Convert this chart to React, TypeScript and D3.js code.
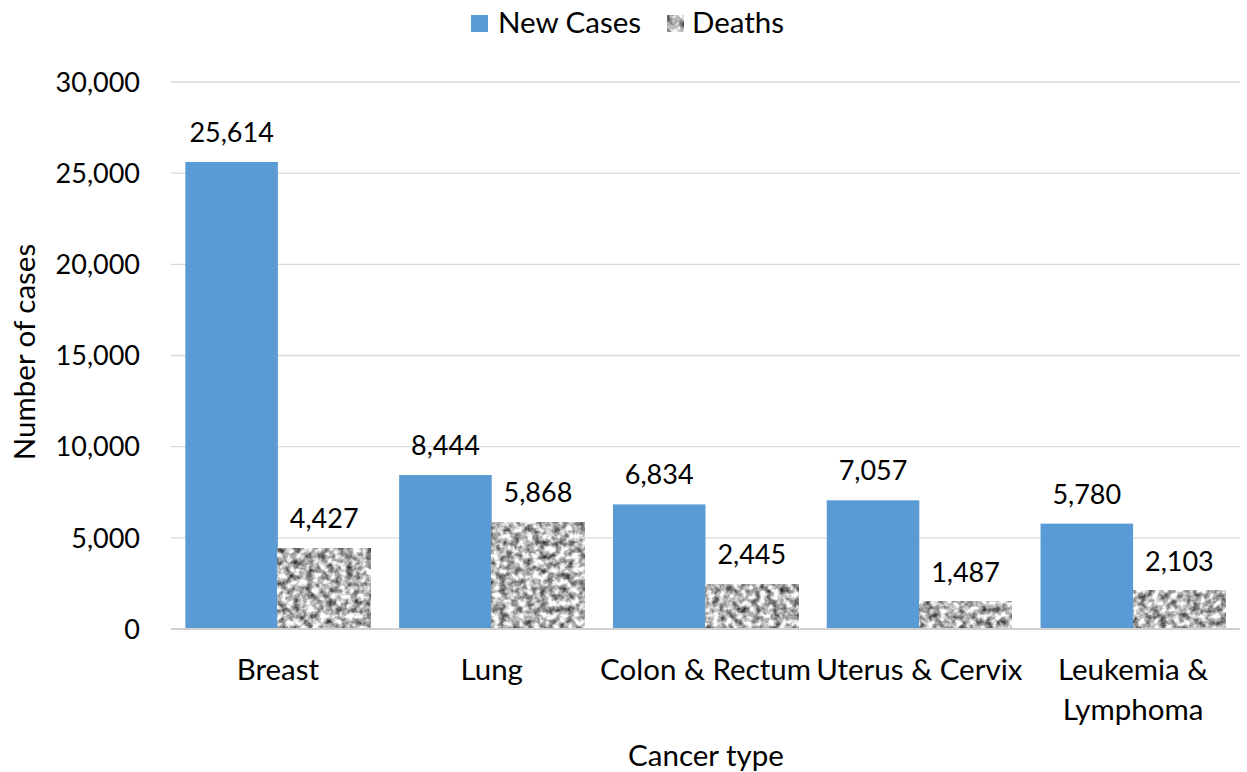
import React from "react";
import * as d3 from "d3";

const categories = ["Breast", "Lung", "Colon & Rectum", "Uterus & Cervix", "Leukemia & Lymphoma"];
const categoryLines = [["Breast"], ["Lung"], ["Colon & Rectum"], ["Uterus & Cervix"], ["Leukemia &", "Lymphoma"]];
const newCases = [25614, 8444, 6834, 7057, 5780];
const deaths = [4427, 5868, 2445, 1487, 2103];
const yTicks = [0, 5000, 10000, 15000, 20000, 25000, 30000];
const seriesNames = ["New Cases", "Deaths"];

const W = 1247, H = 772;
const left = 171, right = 1240, top = 82, bottom = 629;
const FONT = "Lato, 'Open Sans', sans-serif";
const FS = 27;
const FSW = 29.5;

export default function App() {
  const x0 = d3.scaleBand<string>().domain(categories).range([left, right]).paddingInner(0).paddingOuter(0);
  const x1 = d3.scaleBand<string>().domain(seriesNames).range([0, x0.bandwidth()]).paddingOuter(0.155).paddingInner(0);
  const y = d3.scaleLinear().domain([0, 30000]).range([bottom, top]);
  const fmt = d3.format(",");
  const blue = "#5b9bd5";

  return (
    <svg width={W} height={H} style={{ position: "absolute", left: 0, top: 0, background: "#fff" }}>
      <defs>
        <filter id="noise" x="0" y="0" width="1" height="1" filterUnits="objectBoundingBox" colorInterpolationFilters="sRGB">
          <feTurbulence type="fractalNoise" baseFrequency="0.15" numOctaves={3} seed={5} result="t" />
          <feColorMatrix in="t" type="matrix"
            values="1.45 0 0 0 -0.02  1.45 0 0 0 -0.02  1.45 0 0 0 -0.02  0 0 0 0 1" result="g" />
          <feGaussianBlur in="g" stdDeviation="0.6" />
        </filter>
      </defs>
      {yTicks.map((t) => (
        <g key={t}>
          <line x1={left} x2={right} y1={y(t)} y2={y(t)} stroke="#d9d9d9" strokeWidth={1.3} />
          <text x={140} y={y(t)} dy="0.36em" textAnchor="end" fontFamily={FONT} fontSize={FS} fill="#000">{fmt(t)}</text>
        </g>
      ))}
      {categories.map((c, i) => {
        const gx = x0(c)!;
        const xa = gx + x1("New Cases")!;
        const xb = gx + x1("Deaths")!;
        const bw = x1.bandwidth();
        return (
          <g key={c}>
            <rect x={xa} y={y(newCases[i])} width={bw} height={bottom - y(newCases[i])} fill={blue} />
            <rect x={xb} y={y(deaths[i])} width={bw} height={bottom - y(deaths[i])} fill="#aaa" filter="url(#noise)" />
            <text x={xa + bw / 2} y={y(newCases[i]) - 20} textAnchor="middle" fontFamily={FONT} fontSize={FS}>{fmt(newCases[i])}</text>
            <text x={xb + bw / 2} y={y(deaths[i]) - 20} textAnchor="middle" fontFamily={FONT} fontSize={FS}>{fmt(deaths[i])}</text>
            {categoryLines[i].map((ln, j) => (
              <text key={j} x={gx + x0.bandwidth() / 2} y={680 + j * 40} textAnchor="middle" fontFamily={FONT} fontSize={FSW}>{ln}</text>
            ))}
          </g>
        );
      })}
      <line x1={left} x2={right} y1={bottom} y2={bottom} stroke="#d0d0d0" strokeWidth={2} />
      <text x={706} y={766} textAnchor="middle" fontFamily={FONT} fontSize={FSW}>Cancer type</text>
      <text transform={`translate(35,352) rotate(-90)`} textAnchor="middle" fontFamily={FONT} fontSize={FSW}>Number of cases</text>
      <rect x={471} y={15} width={17} height={17} fill={blue} />
      <text x={498} y={33} fontFamily={FONT} fontSize={FSW}>New Cases</text>
      <rect x={667} y={15} width={17} height={17} fill="#aaa" filter="url(#noise)" />
      <text x={692} y={33} fontFamily={FONT} fontSize={FSW}>Deaths</text>
    </svg>
  );
}
